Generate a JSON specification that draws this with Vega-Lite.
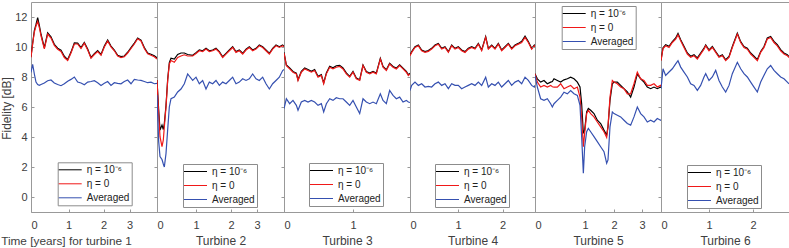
{
  "$schema": "https://vega.github.io/schema/vega-lite/v6.json",
  "autosize": {"type": "pad"},
  "padding": {"left": 0, "top": 1, "right": 0, "bottom": 0},
  "background": "white",
  "spacing": 0,
  "bounds": "flush",
  "data": {"values": [
    {"turbine":1,"t":0,"eta_small":9.35,"eta_zero":9.3,"mean":8.3},
    {"turbine":1,"t":0.044,"eta_small":10.25,"eta_zero":10.2,"mean":8.85},
    {"turbine":1,"t":0.089,"eta_small":11.1,"eta_zero":11.0,"mean":8.2},
    {"turbine":1,"t":0.133,"eta_small":11.5,"eta_zero":11.4,"mean":7.66},
    {"turbine":1,"t":0.178,"eta_small":11.95,"eta_zero":11.7,"mean":7.5},
    {"turbine":1,"t":0.222,"eta_small":11.45,"eta_zero":11.3,"mean":7.44},
    {"turbine":1,"t":0.267,"eta_small":10.85,"eta_zero":10.75,"mean":7.5},
    {"turbine":1,"t":0.356,"eta_small":9.95,"eta_zero":9.87,"mean":7.6},
    {"turbine":1,"t":0.444,"eta_small":10.95,"eta_zero":10.86,"mean":7.75},
    {"turbine":1,"t":0.533,"eta_small":10.68,"eta_zero":10.6,"mean":7.8},
    {"turbine":1,"t":0.622,"eta_small":10.18,"eta_zero":10.1,"mean":7.6},
    {"turbine":1,"t":0.711,"eta_small":9.92,"eta_zero":9.85,"mean":7.5},
    {"turbine":1,"t":0.8,"eta_small":9.78,"eta_zero":9.7,"mean":7.42},
    {"turbine":1,"t":0.889,"eta_small":9.38,"eta_zero":9.3,"mean":7.55},
    {"turbine":1,"t":0.978,"eta_small":9.16,"eta_zero":9.1,"mean":7.72},
    {"turbine":1,"t":1.071,"eta_small":9.66,"eta_zero":9.6,"mean":7.84},
    {"turbine":1,"t":1.167,"eta_small":10.27,"eta_zero":10.2,"mean":8.0},
    {"turbine":1,"t":1.262,"eta_small":10.26,"eta_zero":10.2,"mean":7.66},
    {"turbine":1,"t":1.357,"eta_small":9.96,"eta_zero":9.9,"mean":7.6},
    {"turbine":1,"t":1.452,"eta_small":10.3,"eta_zero":10.25,"mean":7.48},
    {"turbine":1,"t":1.548,"eta_small":9.86,"eta_zero":9.8,"mean":7.66},
    {"turbine":1,"t":1.643,"eta_small":9.3,"eta_zero":9.25,"mean":7.7},
    {"turbine":1,"t":1.738,"eta_small":9.56,"eta_zero":9.5,"mean":7.75},
    {"turbine":1,"t":1.833,"eta_small":9.76,"eta_zero":9.7,"mean":7.62},
    {"turbine":1,"t":1.929,"eta_small":9.5,"eta_zero":9.45,"mean":7.44},
    {"turbine":1,"t":2.032,"eta_small":10.06,"eta_zero":10.0,"mean":7.58},
    {"turbine":1,"t":2.16,"eta_small":10.46,"eta_zero":10.4,"mean":7.7},
    {"turbine":1,"t":2.288,"eta_small":10.06,"eta_zero":10.0,"mean":7.44},
    {"turbine":1,"t":2.417,"eta_small":9.8,"eta_zero":9.75,"mean":7.62},
    {"turbine":1,"t":2.545,"eta_small":9.45,"eta_zero":9.4,"mean":7.58},
    {"turbine":1,"t":2.673,"eta_small":9.36,"eta_zero":9.3,"mean":7.55},
    {"turbine":1,"t":2.801,"eta_small":9.4,"eta_zero":9.35,"mean":7.7},
    {"turbine":1,"t":2.929,"eta_small":9.65,"eta_zero":9.6,"mean":7.8},
    {"turbine":1,"t":3.055,"eta_small":9.96,"eta_zero":9.9,"mean":7.55},
    {"turbine":1,"t":3.176,"eta_small":10.26,"eta_zero":10.2,"mean":7.84},
    {"turbine":1,"t":3.297,"eta_small":10.6,"eta_zero":10.55,"mean":7.8},
    {"turbine":1,"t":3.418,"eta_small":10.46,"eta_zero":10.4,"mean":7.77},
    {"turbine":1,"t":3.539,"eta_small":9.97,"eta_zero":9.9,"mean":7.7},
    {"turbine":1,"t":3.661,"eta_small":9.6,"eta_zero":9.55,"mean":7.62},
    {"turbine":1,"t":3.782,"eta_small":9.52,"eta_zero":9.45,"mean":7.66},
    {"turbine":1,"t":3.903,"eta_small":9.42,"eta_zero":9.35,"mean":7.55},
    {"turbine":1,"t":4.0,"eta_small":9.28,"eta_zero":9.2,"mean":7.58},

    {"turbine":2,"t":0,"eta_small":7.8,"eta_zero":7.8,"mean":6.8},
    {"turbine":2,"t":0.043,"eta_small":5.8,"eta_zero":5.56,"mean":3.7},
    {"turbine":2,"t":0.077,"eta_small":4.46,"eta_zero":4.02,"mean":2.7},
    {"turbine":2,"t":0.128,"eta_small":4.8,"eta_zero":3.36,"mean":2.5},
    {"turbine":2,"t":0.162,"eta_small":4.5,"eta_zero":3.8,"mean":2.2},
    {"turbine":2,"t":0.188,"eta_small":4.9,"eta_zero":4.68,"mean":2.0},
    {"turbine":2,"t":0.231,"eta_small":6.1,"eta_zero":6.0,"mean":2.9},
    {"turbine":2,"t":0.274,"eta_small":7.85,"eta_zero":7.77,"mean":4.5},
    {"turbine":2,"t":0.316,"eta_small":8.95,"eta_zero":8.87,"mean":6.0},
    {"turbine":2,"t":0.359,"eta_small":9.25,"eta_zero":9.1,"mean":6.55},
    {"turbine":2,"t":0.444,"eta_small":9.2,"eta_zero":8.98,"mean":6.66},
    {"turbine":2,"t":0.53,"eta_small":9.5,"eta_zero":9.3,"mean":7.0},
    {"turbine":2,"t":0.615,"eta_small":9.6,"eta_zero":9.4,"mean":7.2},
    {"turbine":2,"t":0.701,"eta_small":9.6,"eta_zero":9.48,"mean":7.55},
    {"turbine":2,"t":0.786,"eta_small":9.5,"eta_zero":9.4,"mean":8.2},
    {"turbine":2,"t":0.915,"eta_small":9.45,"eta_zero":9.4,"mean":7.77},
    {"turbine":2,"t":1.0,"eta_small":9.62,"eta_zero":9.57,"mean":7.99},
    {"turbine":2,"t":1.095,"eta_small":9.8,"eta_zero":9.75,"mean":7.55},
    {"turbine":2,"t":1.19,"eta_small":9.75,"eta_zero":9.7,"mean":7.77},
    {"turbine":2,"t":1.286,"eta_small":9.91,"eta_zero":9.86,"mean":7.2},
    {"turbine":2,"t":1.381,"eta_small":9.75,"eta_zero":9.7,"mean":7.66},
    {"turbine":2,"t":1.476,"eta_small":9.8,"eta_zero":9.75,"mean":7.55},
    {"turbine":2,"t":1.571,"eta_small":9.91,"eta_zero":9.86,"mean":7.77},
    {"turbine":2,"t":1.667,"eta_small":9.69,"eta_zero":9.64,"mean":7.44},
    {"turbine":2,"t":1.762,"eta_small":9.35,"eta_zero":9.3,"mean":7.66},
    {"turbine":2,"t":1.857,"eta_small":9.58,"eta_zero":9.53,"mean":7.55},
    {"turbine":2,"t":1.952,"eta_small":9.8,"eta_zero":9.75,"mean":7.77},
    {"turbine":2,"t":2.064,"eta_small":10.02,"eta_zero":9.97,"mean":7.99},
    {"turbine":2,"t":2.192,"eta_small":9.69,"eta_zero":9.64,"mean":7.55},
    {"turbine":2,"t":2.32,"eta_small":9.8,"eta_zero":9.75,"mean":7.66},
    {"turbine":2,"t":2.449,"eta_small":9.58,"eta_zero":9.53,"mean":7.88},
    {"turbine":2,"t":2.577,"eta_small":9.85,"eta_zero":9.8,"mean":7.77},
    {"turbine":2,"t":2.705,"eta_small":10.02,"eta_zero":9.97,"mean":7.88},
    {"turbine":2,"t":2.833,"eta_small":9.8,"eta_zero":9.75,"mean":8.2},
    {"turbine":2,"t":2.962,"eta_small":9.91,"eta_zero":9.86,"mean":7.88},
    {"turbine":2,"t":3.086,"eta_small":10.13,"eta_zero":10.08,"mean":7.77},
    {"turbine":2,"t":3.21,"eta_small":10.02,"eta_zero":9.97,"mean":7.99},
    {"turbine":2,"t":3.333,"eta_small":9.8,"eta_zero":9.75,"mean":7.55},
    {"turbine":2,"t":3.457,"eta_small":9.58,"eta_zero":9.53,"mean":7.2},
    {"turbine":2,"t":3.58,"eta_small":9.91,"eta_zero":9.86,"mean":7.55},
    {"turbine":2,"t":3.704,"eta_small":10.13,"eta_zero":10.08,"mean":7.77},
    {"turbine":2,"t":3.827,"eta_small":10.02,"eta_zero":9.97,"mean":7.99},
    {"turbine":2,"t":3.95,"eta_small":10.13,"eta_zero":10.08,"mean":8.43},
    {"turbine":2,"t":4.0,"eta_small":10.05,"eta_zero":10.0,"mean":8.5},

    {"turbine":3,"t":0,"eta_small":9.65,"eta_zero":9.6,"mean":5.9},
    {"turbine":3,"t":0.034,"eta_small":8.8,"eta_zero":8.76,"mean":6.55},
    {"turbine":3,"t":0.082,"eta_small":8.6,"eta_zero":8.54,"mean":6.22},
    {"turbine":3,"t":0.13,"eta_small":8.37,"eta_zero":8.32,"mean":6.44},
    {"turbine":3,"t":0.179,"eta_small":8.26,"eta_zero":8.21,"mean":6.11},
    {"turbine":3,"t":0.203,"eta_small":7.82,"eta_zero":7.77,"mean":5.78},
    {"turbine":3,"t":0.251,"eta_small":8.37,"eta_zero":8.32,"mean":6.33},
    {"turbine":3,"t":0.3,"eta_small":8.6,"eta_zero":8.54,"mean":6.44},
    {"turbine":3,"t":0.348,"eta_small":8.5,"eta_zero":8.43,"mean":6.33},
    {"turbine":3,"t":0.396,"eta_small":8.38,"eta_zero":8.32,"mean":6.44},
    {"turbine":3,"t":0.444,"eta_small":8.5,"eta_zero":8.43,"mean":6.33},
    {"turbine":3,"t":0.493,"eta_small":8.05,"eta_zero":7.99,"mean":6.11},
    {"turbine":3,"t":0.541,"eta_small":8.16,"eta_zero":8.1,"mean":6.22},
    {"turbine":3,"t":0.575,"eta_small":7.6,"eta_zero":7.55,"mean":5.67},
    {"turbine":3,"t":0.614,"eta_small":8.27,"eta_zero":8.21,"mean":6.22},
    {"turbine":3,"t":0.662,"eta_small":8.72,"eta_zero":8.65,"mean":6.55},
    {"turbine":3,"t":0.71,"eta_small":8.62,"eta_zero":8.54,"mean":6.44},
    {"turbine":3,"t":0.758,"eta_small":8.75,"eta_zero":8.65,"mean":6.62},
    {"turbine":3,"t":0.807,"eta_small":8.78,"eta_zero":8.7,"mean":6.55},
    {"turbine":3,"t":0.855,"eta_small":8.6,"eta_zero":8.54,"mean":6.55},
    {"turbine":3,"t":0.903,"eta_small":8.27,"eta_zero":8.21,"mean":6.33},
    {"turbine":3,"t":0.952,"eta_small":8.04,"eta_zero":7.99,"mean":6.11},
    {"turbine":3,"t":1.0,"eta_small":8.37,"eta_zero":8.32,"mean":6.44},
    {"turbine":3,"t":1.048,"eta_small":7.93,"eta_zero":7.88,"mean":6.0},
    {"turbine":3,"t":1.097,"eta_small":7.82,"eta_zero":7.77,"mean":5.56},
    {"turbine":3,"t":1.145,"eta_small":8.8,"eta_zero":8.76,"mean":6.55},
    {"turbine":3,"t":1.193,"eta_small":8.37,"eta_zero":8.32,"mean":6.33},
    {"turbine":3,"t":1.242,"eta_small":8.26,"eta_zero":8.21,"mean":6.22},
    {"turbine":3,"t":1.29,"eta_small":8.37,"eta_zero":8.32,"mean":6.33},
    {"turbine":3,"t":1.338,"eta_small":8.26,"eta_zero":8.21,"mean":6.22},
    {"turbine":3,"t":1.396,"eta_small":9.25,"eta_zero":9.2,"mean":6.88},
    {"turbine":3,"t":1.435,"eta_small":8.7,"eta_zero":8.65,"mean":6.44},
    {"turbine":3,"t":1.483,"eta_small":8.48,"eta_zero":8.43,"mean":6.22},
    {"turbine":3,"t":1.531,"eta_small":8.92,"eta_zero":8.87,"mean":7.1},
    {"turbine":3,"t":1.58,"eta_small":8.7,"eta_zero":8.65,"mean":6.77},
    {"turbine":3,"t":1.628,"eta_small":8.59,"eta_zero":8.54,"mean":6.55},
    {"turbine":3,"t":1.676,"eta_small":8.81,"eta_zero":8.76,"mean":6.66},
    {"turbine":3,"t":1.725,"eta_small":8.59,"eta_zero":8.54,"mean":6.33},
    {"turbine":3,"t":1.773,"eta_small":8.37,"eta_zero":8.32,"mean":6.44},
    {"turbine":3,"t":1.802,"eta_small":8.15,"eta_zero":8.1,"mean":6.33},
    {"turbine":3,"t":1.826,"eta_small":8.25,"eta_zero":8.2,"mean":6.3},

    {"turbine":4,"t":0,"eta_small":9.47,"eta_zero":9.42,"mean":7.1},
    {"turbine":4,"t":0.035,"eta_small":9.69,"eta_zero":9.64,"mean":7.44},
    {"turbine":4,"t":0.104,"eta_small":10.02,"eta_zero":9.97,"mean":7.66},
    {"turbine":4,"t":0.174,"eta_small":10.13,"eta_zero":10.08,"mean":7.44},
    {"turbine":4,"t":0.243,"eta_small":9.8,"eta_zero":9.75,"mean":7.55},
    {"turbine":4,"t":0.313,"eta_small":9.69,"eta_zero":9.64,"mean":7.33},
    {"turbine":4,"t":0.382,"eta_small":9.76,"eta_zero":9.71,"mean":7.37},
    {"turbine":4,"t":0.451,"eta_small":9.91,"eta_zero":9.86,"mean":7.33},
    {"turbine":4,"t":0.521,"eta_small":10.13,"eta_zero":10.08,"mean":7.55},
    {"turbine":4,"t":0.59,"eta_small":10.24,"eta_zero":10.19,"mean":7.66},
    {"turbine":4,"t":0.66,"eta_small":9.91,"eta_zero":9.86,"mean":7.44},
    {"turbine":4,"t":0.729,"eta_small":10.02,"eta_zero":9.97,"mean":7.55},
    {"turbine":4,"t":0.799,"eta_small":9.69,"eta_zero":9.64,"mean":7.22},
    {"turbine":4,"t":0.868,"eta_small":10.13,"eta_zero":10.08,"mean":7.55},
    {"turbine":4,"t":0.938,"eta_small":9.91,"eta_zero":9.86,"mean":7.44},
    {"turbine":4,"t":1.007,"eta_small":10.02,"eta_zero":9.97,"mean":7.44},
    {"turbine":4,"t":1.082,"eta_small":9.8,"eta_zero":9.75,"mean":7.22},
    {"turbine":4,"t":1.157,"eta_small":9.69,"eta_zero":9.64,"mean":7.33},
    {"turbine":4,"t":1.232,"eta_small":9.91,"eta_zero":9.86,"mean":7.44},
    {"turbine":4,"t":1.307,"eta_small":10.02,"eta_zero":9.97,"mean":7.55},
    {"turbine":4,"t":1.382,"eta_small":9.91,"eta_zero":9.86,"mean":7.44},
    {"turbine":4,"t":1.457,"eta_small":10.24,"eta_zero":10.19,"mean":7.66},
    {"turbine":4,"t":1.532,"eta_small":9.8,"eta_zero":9.75,"mean":7.44},
    {"turbine":4,"t":1.622,"eta_small":10.69,"eta_zero":10.64,"mean":7.99},
    {"turbine":4,"t":1.682,"eta_small":9.91,"eta_zero":9.86,"mean":7.33},
    {"turbine":4,"t":1.757,"eta_small":10.13,"eta_zero":10.08,"mean":7.55},
    {"turbine":4,"t":1.831,"eta_small":9.91,"eta_zero":9.86,"mean":7.44},
    {"turbine":4,"t":1.906,"eta_small":10.24,"eta_zero":10.19,"mean":7.66},
    {"turbine":4,"t":1.981,"eta_small":9.8,"eta_zero":9.75,"mean":7.33},
    {"turbine":4,"t":2.056,"eta_small":10.02,"eta_zero":9.97,"mean":7.55},
    {"turbine":4,"t":2.131,"eta_small":10.24,"eta_zero":10.19,"mean":7.77},
    {"turbine":4,"t":2.206,"eta_small":9.91,"eta_zero":9.86,"mean":7.44},
    {"turbine":4,"t":2.281,"eta_small":10.13,"eta_zero":10.08,"mean":7.66},
    {"turbine":4,"t":2.356,"eta_small":10.24,"eta_zero":10.19,"mean":7.77},
    {"turbine":4,"t":2.431,"eta_small":10.38,"eta_zero":10.3,"mean":7.55},
    {"turbine":4,"t":2.506,"eta_small":10.72,"eta_zero":10.64,"mean":7.99},
    {"turbine":4,"t":2.58,"eta_small":10.36,"eta_zero":10.3,"mean":7.77},
    {"turbine":4,"t":2.655,"eta_small":9.91,"eta_zero":9.86,"mean":7.44},
    {"turbine":4,"t":2.715,"eta_small":10.13,"eta_zero":10.08,"mean":7.33},
    {"turbine":4,"t":2.73,"eta_small":10.05,"eta_zero":10.0,"mean":7.45},

    {"turbine":5,"t":0,"eta_small":8.21,"eta_zero":8.21,"mean":8.1},
    {"turbine":5,"t":0.047,"eta_small":7.88,"eta_zero":7.66,"mean":7.33},
    {"turbine":5,"t":0.113,"eta_small":7.66,"eta_zero":7.33,"mean":6.55},
    {"turbine":5,"t":0.18,"eta_small":7.77,"eta_zero":7.44,"mean":6.44},
    {"turbine":5,"t":0.247,"eta_small":7.55,"eta_zero":7.33,"mean":6.55},
    {"turbine":5,"t":0.313,"eta_small":7.66,"eta_zero":7.44,"mean":6.22},
    {"turbine":5,"t":0.347,"eta_small":7.7,"eta_zero":7.35,"mean":6.0},
    {"turbine":5,"t":0.38,"eta_small":7.88,"eta_zero":7.33,"mean":6.22},
    {"turbine":5,"t":0.447,"eta_small":7.77,"eta_zero":7.33,"mean":6.44},
    {"turbine":5,"t":0.513,"eta_small":7.66,"eta_zero":7.55,"mean":6.66},
    {"turbine":5,"t":0.58,"eta_small":7.81,"eta_zero":7.22,"mean":6.99},
    {"turbine":5,"t":0.647,"eta_small":7.88,"eta_zero":7.33,"mean":6.88},
    {"turbine":5,"t":0.713,"eta_small":7.99,"eta_zero":7.44,"mean":7.1},
    {"turbine":5,"t":0.78,"eta_small":7.88,"eta_zero":7.22,"mean":6.88},
    {"turbine":5,"t":0.847,"eta_small":7.66,"eta_zero":7.33,"mean":6.77},
    {"turbine":5,"t":0.9,"eta_small":7.33,"eta_zero":6.66,"mean":6.11},
    {"turbine":5,"t":0.933,"eta_small":6.22,"eta_zero":5.34,"mean":4.02},
    {"turbine":5,"t":0.967,"eta_small":4.24,"eta_zero":3.35,"mean":1.58},
    {"turbine":5,"t":0.993,"eta_small":4.46,"eta_zero":4.24,"mean":3.35},
    {"turbine":5,"t":1.057,"eta_small":5.67,"eta_zero":5.56,"mean":4.35},
    {"turbine":5,"t":1.115,"eta_small":5.9,"eta_zero":5.78,"mean":4.57},
    {"turbine":5,"t":1.195,"eta_small":5.78,"eta_zero":5.56,"mean":4.35},
    {"turbine":5,"t":1.31,"eta_small":5.56,"eta_zero":5.34,"mean":4.02},
    {"turbine":5,"t":1.425,"eta_small":5.12,"eta_zero":5.0,"mean":3.69},
    {"turbine":5,"t":1.54,"eta_small":4.9,"eta_zero":4.68,"mean":3.35},
    {"turbine":5,"t":1.655,"eta_small":4.46,"eta_zero":4.35,"mean":3.02},
    {"turbine":5,"t":1.747,"eta_small":4.13,"eta_zero":3.97,"mean":2.25},
    {"turbine":5,"t":1.793,"eta_small":4.68,"eta_zero":4.68,"mean":2.47},
    {"turbine":5,"t":1.862,"eta_small":6.44,"eta_zero":6.66,"mean":4.68},
    {"turbine":5,"t":1.943,"eta_small":7.55,"eta_zero":7.77,"mean":5.67},
    {"turbine":5,"t":2.0,"eta_small":7.66,"eta_zero":7.66,"mean":5.56},
    {"turbine":5,"t":2.119,"eta_small":7.66,"eta_zero":7.55,"mean":5.45},
    {"turbine":5,"t":2.238,"eta_small":7.44,"eta_zero":7.33,"mean":5.34},
    {"turbine":5,"t":2.357,"eta_small":7.22,"eta_zero":7.22,"mean":5.12},
    {"turbine":5,"t":2.476,"eta_small":7.0,"eta_zero":6.88,"mean":4.9},
    {"turbine":5,"t":2.595,"eta_small":6.66,"eta_zero":6.88,"mean":4.79},
    {"turbine":5,"t":2.714,"eta_small":7.33,"eta_zero":7.55,"mean":5.34},
    {"turbine":5,"t":2.833,"eta_small":8.21,"eta_zero":8.32,"mean":6.0},
    {"turbine":5,"t":2.952,"eta_small":7.88,"eta_zero":7.88,"mean":5.56},
    {"turbine":5,"t":3.071,"eta_small":7.66,"eta_zero":7.77,"mean":5.34},
    {"turbine":5,"t":3.19,"eta_small":7.33,"eta_zero":7.44,"mean":5.0},
    {"turbine":5,"t":3.31,"eta_small":7.22,"eta_zero":7.44,"mean":5.12},
    {"turbine":5,"t":3.429,"eta_small":7.33,"eta_zero":7.55,"mean":5.0},
    {"turbine":5,"t":3.548,"eta_small":7.22,"eta_zero":7.33,"mean":5.23},
    {"turbine":5,"t":3.667,"eta_small":7.33,"eta_zero":7.44,"mean":5.12},
    {"turbine":5,"t":3.68,"eta_small":7.3,"eta_zero":7.4,"mean":5.15},

    {"turbine":6,"t":0,"eta_small":9.12,"eta_zero":9.09,"mean":7.22},
    {"turbine":6,"t":0.042,"eta_small":9.95,"eta_zero":9.9,"mean":8.55},
    {"turbine":6,"t":0.097,"eta_small":10.15,"eta_zero":10.08,"mean":8.11},
    {"turbine":6,"t":0.167,"eta_small":10.05,"eta_zero":9.97,"mean":8.33},
    {"turbine":6,"t":0.236,"eta_small":10.36,"eta_zero":10.3,"mean":8.55},
    {"turbine":6,"t":0.306,"eta_small":10.6,"eta_zero":10.53,"mean":8.87},
    {"turbine":6,"t":0.354,"eta_small":10.9,"eta_zero":10.81,"mean":9.09},
    {"turbine":6,"t":0.41,"eta_small":10.48,"eta_zero":10.41,"mean":8.66},
    {"turbine":6,"t":0.479,"eta_small":10.05,"eta_zero":9.97,"mean":8.33},
    {"turbine":6,"t":0.549,"eta_small":9.6,"eta_zero":9.53,"mean":8.0},
    {"turbine":6,"t":0.618,"eta_small":9.38,"eta_zero":9.31,"mean":7.55},
    {"turbine":6,"t":0.688,"eta_small":9.48,"eta_zero":9.42,"mean":7.44},
    {"turbine":6,"t":0.757,"eta_small":9.27,"eta_zero":9.2,"mean":7.11},
    {"turbine":6,"t":0.826,"eta_small":9.6,"eta_zero":9.53,"mean":7.44},
    {"turbine":6,"t":0.896,"eta_small":9.92,"eta_zero":9.86,"mean":8.0},
    {"turbine":6,"t":0.931,"eta_small":10.14,"eta_zero":10.08,"mean":8.22},
    {"turbine":6,"t":1.0,"eta_small":9.81,"eta_zero":9.75,"mean":7.77},
    {"turbine":6,"t":1.076,"eta_small":10.03,"eta_zero":9.97,"mean":8.0},
    {"turbine":6,"t":1.152,"eta_small":9.7,"eta_zero":9.64,"mean":8.44},
    {"turbine":6,"t":1.227,"eta_small":9.37,"eta_zero":9.31,"mean":7.77},
    {"turbine":6,"t":1.303,"eta_small":9.48,"eta_zero":9.42,"mean":7.33},
    {"turbine":6,"t":1.379,"eta_small":9.15,"eta_zero":9.09,"mean":7.0},
    {"turbine":6,"t":1.455,"eta_small":9.37,"eta_zero":9.31,"mean":7.44},
    {"turbine":6,"t":1.53,"eta_small":10.03,"eta_zero":9.97,"mean":8.22},
    {"turbine":6,"t":1.644,"eta_small":10.92,"eta_zero":10.86,"mean":8.98},
    {"turbine":6,"t":1.72,"eta_small":10.36,"eta_zero":10.3,"mean":8.55},
    {"turbine":6,"t":1.795,"eta_small":10.03,"eta_zero":9.97,"mean":8.22},
    {"turbine":6,"t":1.871,"eta_small":9.92,"eta_zero":9.86,"mean":8.0},
    {"turbine":6,"t":1.947,"eta_small":9.6,"eta_zero":9.53,"mean":7.66},
    {"turbine":6,"t":2.023,"eta_small":9.38,"eta_zero":9.31,"mean":7.33},
    {"turbine":6,"t":2.099,"eta_small":9.16,"eta_zero":9.09,"mean":7.0},
    {"turbine":6,"t":2.175,"eta_small":9.7,"eta_zero":9.64,"mean":7.66},
    {"turbine":6,"t":2.251,"eta_small":10.03,"eta_zero":9.97,"mean":8.11},
    {"turbine":6,"t":2.326,"eta_small":10.6,"eta_zero":10.53,"mean":8.55},
    {"turbine":6,"t":2.402,"eta_small":10.7,"eta_zero":10.64,"mean":8.77},
    {"turbine":6,"t":2.478,"eta_small":10.37,"eta_zero":10.3,"mean":8.44},
    {"turbine":6,"t":2.554,"eta_small":10.15,"eta_zero":10.08,"mean":8.22},
    {"turbine":6,"t":2.63,"eta_small":9.82,"eta_zero":9.75,"mean":8.0},
    {"turbine":6,"t":2.706,"eta_small":9.6,"eta_zero":9.53,"mean":7.88},
    {"turbine":6,"t":2.782,"eta_small":9.48,"eta_zero":9.42,"mean":7.66},
    {"turbine":6,"t":2.82,"eta_small":9.36,"eta_zero":9.3,"mean":7.55}
  ]},
  "resolve": {"scale": {"color": "independent", "x": "independent", "y": "independent"}},
  "hconcat": [
    {
      "width": 126, "height": 210,
      "transform": [{"filter": "datum.turbine == 1"}, {"fold": ["eta_small", "eta_zero", "mean"], "as": ["series", "value"]}],
      "mark": {"type": "line", "strokeWidth": 1.2, "clip": true},
      "encoding": {
        "x": {"field": "t", "type": "quantitative", "scale": {"domain": [0, 1, 2, 3, 4], "range": [0, 37.5, 72.5, 98.5, 126], "nice": false, "zero": false},
              "axis": {"values": [0, 1, 2, 3], "format": "d", "title": "Time [years] for turbine 1", "titleX": 35, "titleFontSize": 11.8}},
        "y": {"field": "value", "type": "quantitative", "scale": {"domain": [-1, 13], "nice": false, "zero": false},
              "axis": {"values": [0, 2, 4, 6, 8, 10, 12], "title": "Fidelity [dB]", "tickSize": -3, "labelPadding": 7, "titleX": -24.5, "titleY": 106, "titleBaseline": "middle", "titleAngle": -90}},
        "color": {"field": "series", "type": "nominal", "scale": {"domain": ["eta_small", "eta_zero", "mean"], "range": ["#000000", "#f01818", "#3550b0"]},
                  "legend": {"legendX": 26.7, "legendY": 160.3, "labelExpr": "datum.value == 'eta_small' ? 'η = 10⁻⁶' : datum.value == 'eta_zero' ? 'η = 0' : 'Averaged'"}}
      }
    },
    {
      "width": 127, "height": 210,
      "transform": [{"filter": "datum.turbine == 2"}, {"fold": ["eta_small", "eta_zero", "mean"], "as": ["series", "value"]}],
      "mark": {"type": "line", "strokeWidth": 1.2, "clip": true},
      "encoding": {
        "x": {"field": "t", "type": "quantitative", "scale": {"domain": [0, 1, 2, 3, 4], "range": [0, 39, 74, 100, 127], "nice": false, "zero": false},
              "axis": {"values": [0, 1, 2, 3], "format": "d", "title": "Turbine 2"}},
        "y": {"field": "value", "type": "quantitative", "scale": {"domain": [-1, 13], "nice": false, "zero": false},
              "axis": {"values": [0, 2, 4, 6, 8, 10, 12], "title": null, "labels": false, "tickSize": 3}},
        "color": {"field": "series", "type": "nominal", "scale": {"domain": ["eta_small", "eta_zero", "mean"], "range": ["#000000", "#f01818", "#3550b0"]},
                  "legend": {"legendX": 26, "legendY": 162, "labelExpr": "datum.value == 'eta_small' ? 'η = 10⁻⁶' : datum.value == 'eta_zero' ? 'η = 0' : 'Averaged'"}}
      }
    },
    {
      "width": 126, "height": 210,
      "transform": [{"filter": "datum.turbine == 3"}, {"fold": ["eta_small", "eta_zero", "mean"], "as": ["series", "value"]}],
      "mark": {"type": "line", "strokeWidth": 1.2, "clip": true},
      "encoding": {
        "x": {"field": "t", "type": "quantitative", "scale": {"domain": [0, 1.826], "range": [0, 126], "nice": false, "zero": false},
              "axis": {"values": [0, 1], "format": "d", "title": "Turbine 3"}},
        "y": {"field": "value", "type": "quantitative", "scale": {"domain": [-1, 13], "nice": false, "zero": false},
              "axis": {"values": [0, 2, 4, 6, 8, 10, 12], "title": null, "labels": false, "tickSize": 3}},
        "color": {"field": "series", "type": "nominal", "scale": {"domain": ["eta_small", "eta_zero", "mean"], "range": ["#000000", "#f01818", "#3550b0"]},
                  "legend": {"legendX": 25, "legendY": 161, "labelExpr": "datum.value == 'eta_small' ? 'η = 10⁻⁶' : datum.value == 'eta_zero' ? 'η = 0' : 'Averaged'"}}
      }
    },
    {
      "width": 125, "height": 210,
      "transform": [{"filter": "datum.turbine == 4"}, {"fold": ["eta_small", "eta_zero", "mean"], "as": ["series", "value"]}],
      "mark": {"type": "line", "strokeWidth": 1.2, "clip": true},
      "encoding": {
        "x": {"field": "t", "type": "quantitative", "scale": {"domain": [0, 1, 2, 2.73], "range": [0, 48, 92.5, 125], "nice": false, "zero": false},
              "axis": {"values": [0, 1, 2], "format": "d", "title": "Turbine 4"}},
        "y": {"field": "value", "type": "quantitative", "scale": {"domain": [-1, 13], "nice": false, "zero": false},
              "axis": {"values": [0, 2, 4, 6, 8, 10, 12], "title": null, "labels": false, "tickSize": 3}},
        "color": {"field": "series", "type": "nominal", "scale": {"domain": ["eta_small", "eta_zero", "mean"], "range": ["#000000", "#f01818", "#3550b0"]},
                  "legend": {"legendX": 25, "legendY": 162, "labelExpr": "datum.value == 'eta_small' ? 'η = 10⁻⁶' : datum.value == 'eta_zero' ? 'η = 0' : 'Averaged'"}}
      }
    },
    {
      "width": 126, "height": 210,
      "transform": [{"filter": "datum.turbine == 5"}, {"fold": ["eta_small", "eta_zero", "mean"], "as": ["series", "value"]}],
      "mark": {"type": "line", "strokeWidth": 1.2, "clip": true},
      "encoding": {
        "x": {"field": "t", "type": "quantitative", "scale": {"domain": [0, 1, 2, 3, 3.68], "range": [0, 50, 79, 107, 126], "nice": false, "zero": false},
              "axis": {"values": [0, 1, 2, 3], "format": "d", "title": "Turbine 5"}},
        "y": {"field": "value", "type": "quantitative", "scale": {"domain": [-1, 13], "nice": false, "zero": false},
              "axis": {"values": [0, 2, 4, 6, 8, 10, 12], "title": null, "labels": false, "tickSize": 3}},
        "color": {"field": "series", "type": "nominal", "scale": {"domain": ["eta_small", "eta_zero", "mean"], "range": ["#000000", "#f01818", "#3550b0"]},
                  "legend": {"legendX": 26.7, "legendY": 4, "labelExpr": "datum.value == 'eta_small' ? 'η = 10⁻⁶' : datum.value == 'eta_zero' ? 'η = 0' : 'Averaged'"}}
      }
    },
    {
      "width": 128, "height": 210,
      "transform": [{"filter": "datum.turbine == 6"}, {"fold": ["eta_small", "eta_zero", "mean"], "as": ["series", "value"]}],
      "mark": {"type": "line", "strokeWidth": 1.2, "clip": true},
      "encoding": {
        "x": {"field": "t", "type": "quantitative", "scale": {"domain": [0, 1, 2, 2.82], "range": [0, 48, 92, 128], "nice": false, "zero": false},
              "axis": {"values": [0, 1, 2], "format": "d", "title": "Turbine 6"}},
        "y": {"field": "value", "type": "quantitative", "scale": {"domain": [-1, 13], "nice": false, "zero": false},
              "axis": {"values": [0, 2, 4, 6, 8, 10, 12], "title": null, "labels": false, "tickSize": 3}},
        "color": {"field": "series", "type": "nominal", "scale": {"domain": ["eta_small", "eta_zero", "mean"], "range": ["#000000", "#f01818", "#3550b0"]},
                  "legend": {"legendX": 26, "legendY": 163, "labelExpr": "datum.value == 'eta_small' ? 'η = 10⁻⁶' : datum.value == 'eta_zero' ? 'η = 0' : 'Averaged'"}}
      }
    }
  ],
  "config": {
    "font": "Liberation Sans",
    "view": {"stroke": "#999999", "strokeWidth": 1},
    "axis": {"domain": false, "grid": false, "labelFont": "Liberation Sans", "titleFont": "Liberation Sans", "labelFontSize": 11, "titleFontSize": 12, "titleFontWeight": "normal", "labelColor": "#404040", "titleColor": "#404040", "tickColor": "#999999"},
    "axisX": {"tickSize": -3, "labelPadding": 10.5, "titleY": 32.5, "titleBaseline": "alphabetic"},
    "legend": {"orient": "none", "title": null, "labelFont": "Liberation Sans", "labelFontSize": 10, "labelColor": "#222222", "padding": 2, "rowPadding": 3, "strokeColor": "#8c8c8c", "fillColor": "white", "symbolType": "M-2.3,0H2.3", "symbolSize": 100, "symbolStrokeWidth": 1, "symbolOffset": 5, "labelOffset": 11}
  }
}
